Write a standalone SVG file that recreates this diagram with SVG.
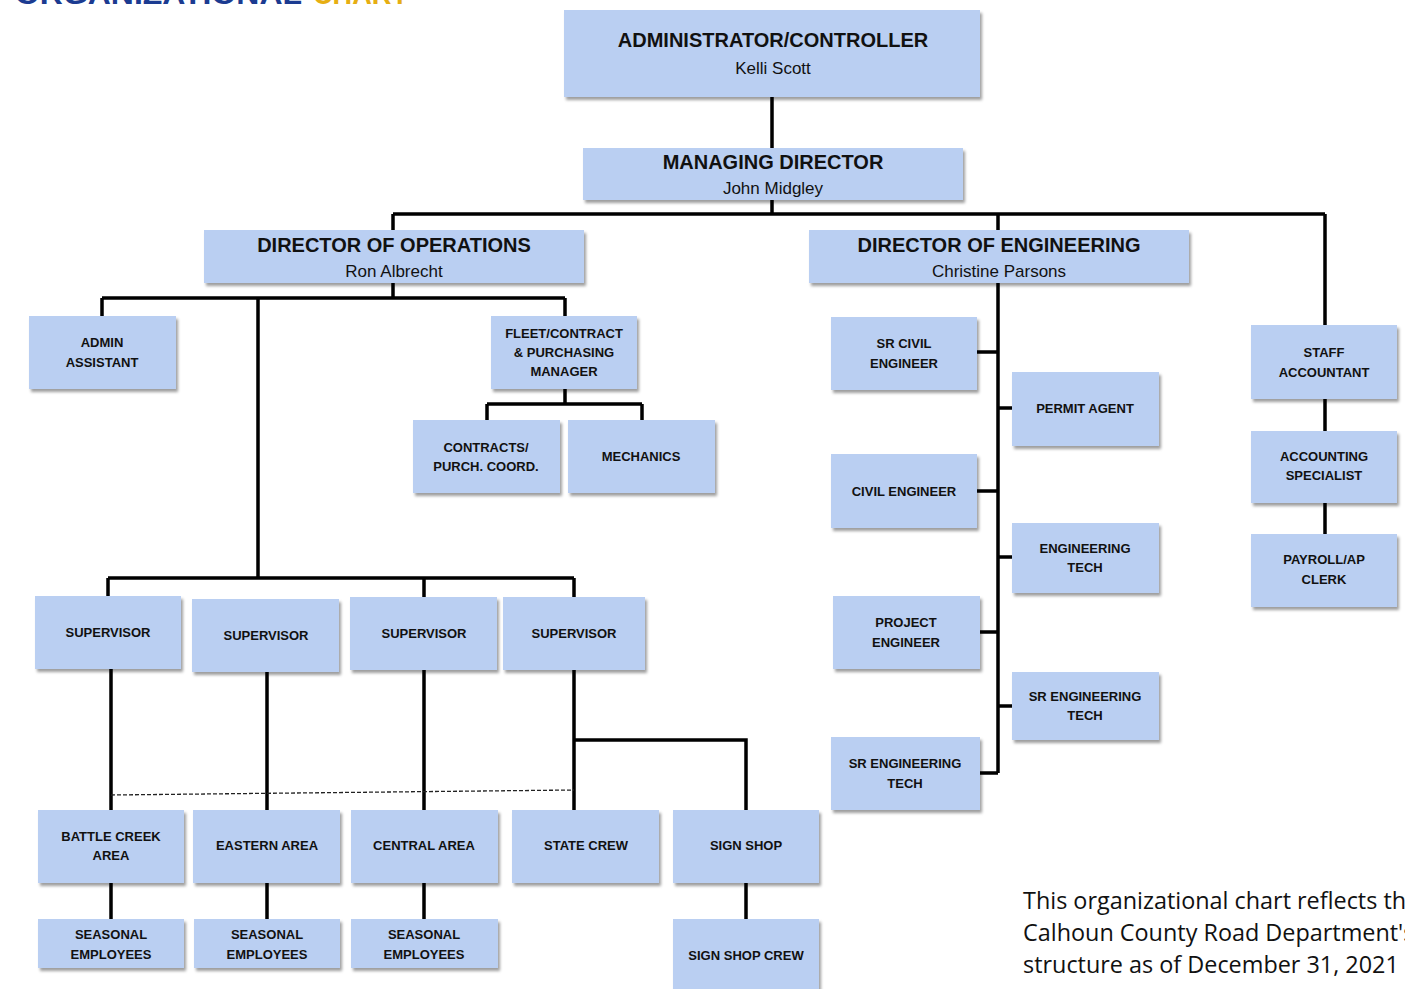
<svg xmlns="http://www.w3.org/2000/svg" width="1405" height="989" viewBox="0 0 1405 989">
<defs>
<filter id="sh" x="-10%" y="-10%" width="125%" height="130%">
<feDropShadow dx="2" dy="3" stdDeviation="1.5" flood-color="#000" flood-opacity="0.38"/>
</filter>
<style>
.box{fill:#BACFF2;filter:url(#sh)}
.t{font-family:"Liberation Sans",Arial,sans-serif;font-weight:bold;font-size:13px;fill:#111;text-anchor:middle}
.big{font-family:"Liberation Sans",Arial,sans-serif;font-weight:bold;font-size:20px;fill:#111;text-anchor:middle}
.nm{font-family:"Liberation Sans",Arial,sans-serif;font-size:17px;fill:#111;text-anchor:middle}
.c{stroke:#000;stroke-width:3.5;fill:none}
.d{stroke:#222;stroke-width:1.3;stroke-dasharray:4 2;fill:none}
.note{font-family:"Open Sans","Liberation Sans",sans-serif;font-size:23.4px;fill:#111}
</style>
</defs>
<rect width="1405" height="989" fill="#fff"/>
<text x="15" y="4" font-family="Liberation Sans,Arial,sans-serif" font-weight="bold" font-size="30" fill="#1B3B91" textLength="287" lengthAdjust="spacingAndGlyphs">ORGANIZATIONAL</text>
<text x="313" y="4" font-family="Liberation Sans,Arial,sans-serif" font-weight="bold" font-size="30" fill="#E6AE12" textLength="95" lengthAdjust="spacingAndGlyphs">CHART</text>

<g id="connectors">
<path class="c" d="M772 97V148M772 200V214M393 214H1325M393 214V230M998 214V230M1325 214V325"/>
<path class="c" d="M393 283V298M102 298H565M102 298V316M565 298V316M258 298V578M565 389V404M487 404H642M487 404V420M642 404V420"/>
<path class="c" d="M108 578H574M108 578V596M424 578V597M574 578V597"/>
<path class="c" d="M111 669V810M267 672V810M424 670V810M574 670V810M574 740H746V810"/>
<path class="d" d="M111 795L574 790"/>
<path class="c" d="M111 883V919M267 883V919M424 883V919M746 883V919"/>
<path class="c" d="M998 283V773M977 352H998M998 408H1012M977 491H998M998 557H1012M980 632H998M998 706H1012M980 773H998"/>
<path class="c" d="M1325 399V431M1325 503V534"/>
</g>

<g id="administrator"><rect class="box" x="564" y="10" width="416" height="87"/><text class="big" x="773" y="47">ADMINISTRATOR/CONTROLLER</text><text class="nm" x="773" y="74">Kelli Scott</text></g>
<g id="managing-director"><rect class="box" x="583" y="148" width="380" height="52"/><text class="big" x="773" y="169">MANAGING DIRECTOR</text><text class="nm" x="773" y="194">John Midgley</text></g>
<g id="director-operations"><rect class="box" x="204" y="230" width="380" height="53"/><text class="big" x="394" y="252">DIRECTOR OF OPERATIONS</text><text class="nm" x="394" y="277">Ron Albrecht</text></g>
<g id="director-engineering"><rect class="box" x="809" y="230" width="380" height="53"/><text class="big" x="999" y="252">DIRECTOR OF ENGINEERING</text><text class="nm" x="999" y="277">Christine Parsons</text></g>

<g id="admin-assistant"><rect class="box" x="29" y="316" width="147" height="73"/><text class="t" x="102" y="347">ADMIN</text><text class="t" x="102" y="367">ASSISTANT</text></g>
<g id="fleet-manager"><rect class="box" x="491" y="316" width="146" height="73"/><text class="t" x="564" y="338">FLEET/CONTRACT</text><text class="t" x="564" y="357">&amp; PURCHASING</text><text class="t" x="564" y="376">MANAGER</text></g>
<g id="contracts"><rect class="box" x="413" y="420" width="147" height="73"/><text class="t" x="486" y="452">CONTRACTS/</text><text class="t" x="486" y="471">PURCH. COORD.</text></g>
<g id="mechanics"><rect class="box" x="568" y="420" width="147" height="73"/><text class="t" x="641" y="461">MECHANICS</text></g>

<g id="supervisor-1"><rect class="box" x="35" y="596" width="146" height="73"/><text class="t" x="108" y="637">SUPERVISOR</text></g>
<g id="supervisor-2"><rect class="box" x="192" y="599" width="147" height="73"/><text class="t" x="266" y="640">SUPERVISOR</text></g>
<g id="supervisor-3"><rect class="box" x="350" y="597" width="147" height="73"/><text class="t" x="424" y="638">SUPERVISOR</text></g>
<g id="supervisor-4"><rect class="box" x="503" y="597" width="142" height="73"/><text class="t" x="574" y="638">SUPERVISOR</text></g>

<g id="battle-creek"><rect class="box" x="38" y="810" width="146" height="73"/><text class="t" x="111" y="841">BATTLE CREEK</text><text class="t" x="111" y="860">AREA</text></g>
<g id="eastern-area"><rect class="box" x="193" y="810" width="147" height="73"/><text class="t" x="267" y="850">EASTERN AREA</text></g>
<g id="central-area"><rect class="box" x="351" y="810" width="147" height="73"/><text class="t" x="424" y="850">CENTRAL AREA</text></g>
<g id="state-crew"><rect class="box" x="512" y="810" width="147" height="73"/><text class="t" x="586" y="850">STATE CREW</text></g>
<g id="sign-shop"><rect class="box" x="673" y="810" width="146" height="73"/><text class="t" x="746" y="850">SIGN SHOP</text></g>

<g id="seasonal-1"><rect class="box" x="38" y="919" width="146" height="49"/><text class="t" x="111" y="939">SEASONAL</text><text class="t" x="111" y="959">EMPLOYEES</text></g>
<g id="seasonal-2"><rect class="box" x="194" y="919" width="146" height="49"/><text class="t" x="267" y="939">SEASONAL</text><text class="t" x="267" y="959">EMPLOYEES</text></g>
<g id="seasonal-3"><rect class="box" x="351" y="919" width="147" height="49"/><text class="t" x="424" y="939">SEASONAL</text><text class="t" x="424" y="959">EMPLOYEES</text></g>
<g id="sign-shop-crew"><rect class="box" x="673" y="919" width="146" height="75"/><text class="t" x="746" y="960">SIGN SHOP CREW</text></g>

<g id="sr-civil-engineer"><rect class="box" x="831" y="317" width="146" height="73"/><text class="t" x="904" y="348">SR CIVIL</text><text class="t" x="904" y="368">ENGINEER</text></g>
<g id="permit-agent"><rect class="box" x="1012" y="372" width="147" height="74"/><text class="t" x="1085" y="413">PERMIT AGENT</text></g>
<g id="civil-engineer"><rect class="box" x="831" y="454" width="146" height="74"/><text class="t" x="904" y="496">CIVIL ENGINEER</text></g>
<g id="engineering-tech"><rect class="box" x="1012" y="523" width="147" height="70"/><text class="t" x="1085" y="553">ENGINEERING</text><text class="t" x="1085" y="572">TECH</text></g>
<g id="project-engineer"><rect class="box" x="833" y="596" width="147" height="73"/><text class="t" x="906" y="627">PROJECT</text><text class="t" x="906" y="647">ENGINEER</text></g>
<g id="sr-engineering-tech-right"><rect class="box" x="1012" y="672" width="147" height="68"/><text class="t" x="1085" y="701">SR ENGINEERING</text><text class="t" x="1085" y="720">TECH</text></g>
<g id="sr-engineering-tech-left"><rect class="box" x="831" y="737" width="149" height="73"/><text class="t" x="905" y="768">SR ENGINEERING</text><text class="t" x="905" y="788">TECH</text></g>

<g id="staff-accountant"><rect class="box" x="1251" y="325" width="146" height="74"/><text class="t" x="1324" y="357">STAFF</text><text class="t" x="1324" y="377">ACCOUNTANT</text></g>
<g id="accounting-specialist"><rect class="box" x="1251" y="431" width="146" height="72"/><text class="t" x="1324" y="461">ACCOUNTING</text><text class="t" x="1324" y="480">SPECIALIST</text></g>
<g id="payroll-clerk"><rect class="box" x="1251" y="534" width="146" height="73"/><text class="t" x="1324" y="564">PAYROLL/AP</text><text class="t" x="1324" y="584">CLERK</text></g>

<text class="note" x="1023" y="909">This organizational chart reflects the</text>
<text class="note" x="1023" y="941">Calhoun County Road Department's</text>
<text class="note" x="1023" y="973">structure as of December 31, 2021</text>
</svg>
